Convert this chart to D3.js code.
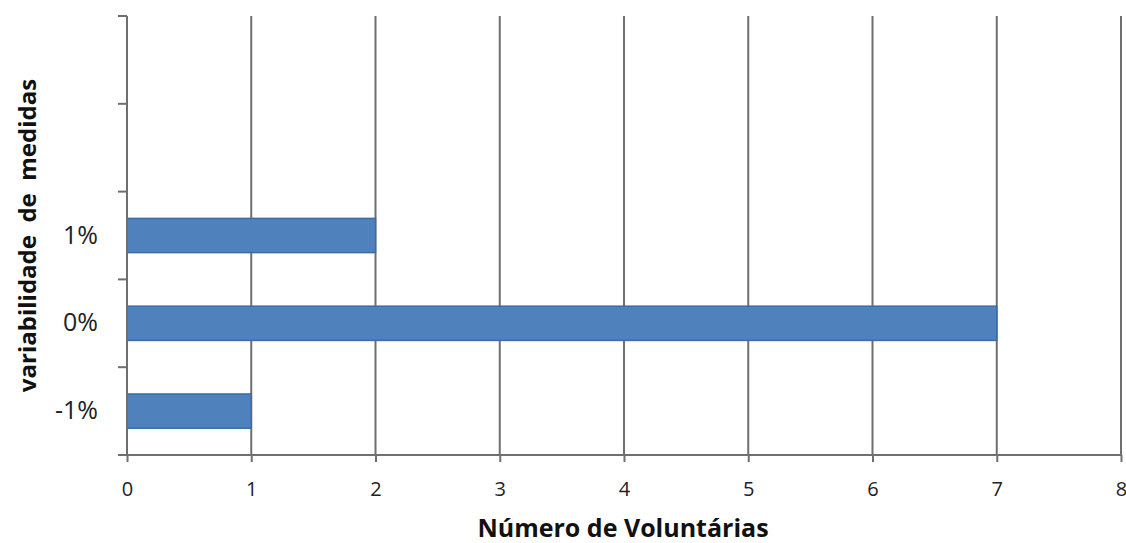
<!DOCTYPE html>
<html><head><meta charset="utf-8">
<script src="https://cdn.jsdelivr.net/npm/d3@7"></script>
<style>body{margin:0;background:#fff}svg{display:block}text{white-space:pre}</style>
</head><body>
<svg id="c" width="1126" height="543"></svg>
<script>
const categories = ["-1%", "0%", "1%", "", " "];
const values = [1, 7, 2, null, null];
const xTicks = [0, 1, 2, 3, 4, 5, 6, 7, 8];
const xTitle = "Número de Voluntárias";
const yTitle = "variabilidade  de  medidas";

const svg = d3.select("#c");
const m = {left:127, right:1121, top:16, bottom:455};
const x = d3.scaleLinear().domain([0, 8]).range([m.left, m.right]);
const y = d3.scaleBand().domain(categories.slice().reverse()).range([m.top, m.bottom]).paddingInner(0.61).paddingOuter(0.305);
const yb = d3.scaleBand().domain(categories.slice().reverse()).range([m.top, m.bottom]);

const font = "'Open Sans', sans-serif";
const grid = "#6f6f6f";

// gridlines
svg.append("g").selectAll("line").data(xTicks.slice(1)).join("line")
  .attr("x1", d => x(d)).attr("x2", d => x(d))
  .attr("y1", m.top).attr("y2", m.bottom)
  .attr("stroke", grid).attr("stroke-width", 2);

// bars
const data = categories.map((c, i) => ({c, v: values[i]})).filter(d => d.v != null);
svg.append("g").selectAll("rect").data(data).join("rect")
  .attr("x", x(0)).attr("y", d => y(d.c))
  .attr("width", d => x(d.v) - x(0)).attr("height", y.bandwidth())
  .attr("fill", "#4f81bd").attr("stroke", "#3b6ca6").attr("stroke-width", 1.5);

// x axis
const xa = svg.append("g").attr("transform", `translate(0,${m.bottom})`)
  .call(d3.axisBottom(x).tickValues(xTicks).tickSize(7).tickPadding(20).tickFormat(d3.format("d")));
xa.select(".domain").attr("stroke", grid).attr("stroke-width", 2).attr("d", `M${m.left},0H${m.right}`);
xa.selectAll(".tick line").attr("stroke", grid).attr("stroke-width", 2);
xa.selectAll(".tick text").attr("font-family", font).attr("font-size", 20).attr("fill", "#222");

// y axis
const ya = svg.append("g").attr("transform", `translate(${m.left},0)`)
  .call(d3.axisLeft(yb).tickSize(0).tickPadding(29));
ya.select(".domain").attr("stroke", grid).attr("stroke-width", 2).attr("d", `M0,${m.top}V${m.bottom}`);
ya.selectAll(".tick text").attr("font-family", font).attr("font-size", 25).attr("fill", "#222");
// boundary ticks
const bounds = yb.domain().map(d => yb(d)).concat([m.bottom]);
svg.append("g").selectAll("line").data(bounds).join("line")
  .attr("x1", m.left - 9).attr("x2", m.left)
  .attr("y1", d => d).attr("y2", d => d)
  .attr("stroke", grid).attr("stroke-width", 2);

// titles
svg.append("text").attr("x", 623).attr("y", 537).attr("text-anchor", "middle")
  .attr("font-family", font).attr("font-weight", "bold").attr("font-size", 25).attr("fill", "#111")
  .text(xTitle);
svg.append("text").attr("transform", `translate(36,${(m.top + m.bottom)/2}) rotate(-90)`)
  .attr("text-anchor", "middle")
  .attr("font-family", font).attr("font-weight", "bold").attr("font-size", 24).attr("fill", "#111")
  .text(yTitle);
</script>
</body></html>
